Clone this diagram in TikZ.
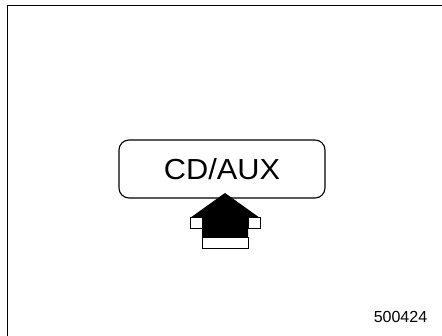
\documentclass[tikz,border=0pt]{standalone}
\usepackage{fontspec}
\setmainfont{Liberation Sans}
\usepackage{tikz}

\begin{document}
\begin{tikzpicture}[x=1pt, y=-1pt, line join=miter,
	every node/.style={inner sep=0pt},
	button/.style={draw, line width=1.1pt, rounded corners=10pt, minimum width=206pt, minimum height=58pt},
	face/.style={fill=white, draw, line width=1pt}]
	\useasboundingbox (0,0) rectangle (442,336);
	\draw[line width=1.3pt] (7.5,340) -- (7.5,5.5) -- (445,5.5);
	\node[button] (btn) at (222,169) {\scalebox{1.06}[1]{\fontsize{29}{29}\selectfont CD/AUX}};
	% underside of the arrow
	\draw[face] (190,218) rectangle (202,229);
	\draw[face] (248,218) rectangle (260,229);
	\draw[face] (202,238) rectangle (248,249);
	\fill[black] (225,193) -- (260,218) -- (248,218) -- (248,238) -- (202,238) -- (202,218) -- (190,218) -- cycle;
	\node[font=\fontsize{16}{16}\selectfont, anchor=base] (code) at (400.5,323) {500424};
\end{tikzpicture}
\end{document}
